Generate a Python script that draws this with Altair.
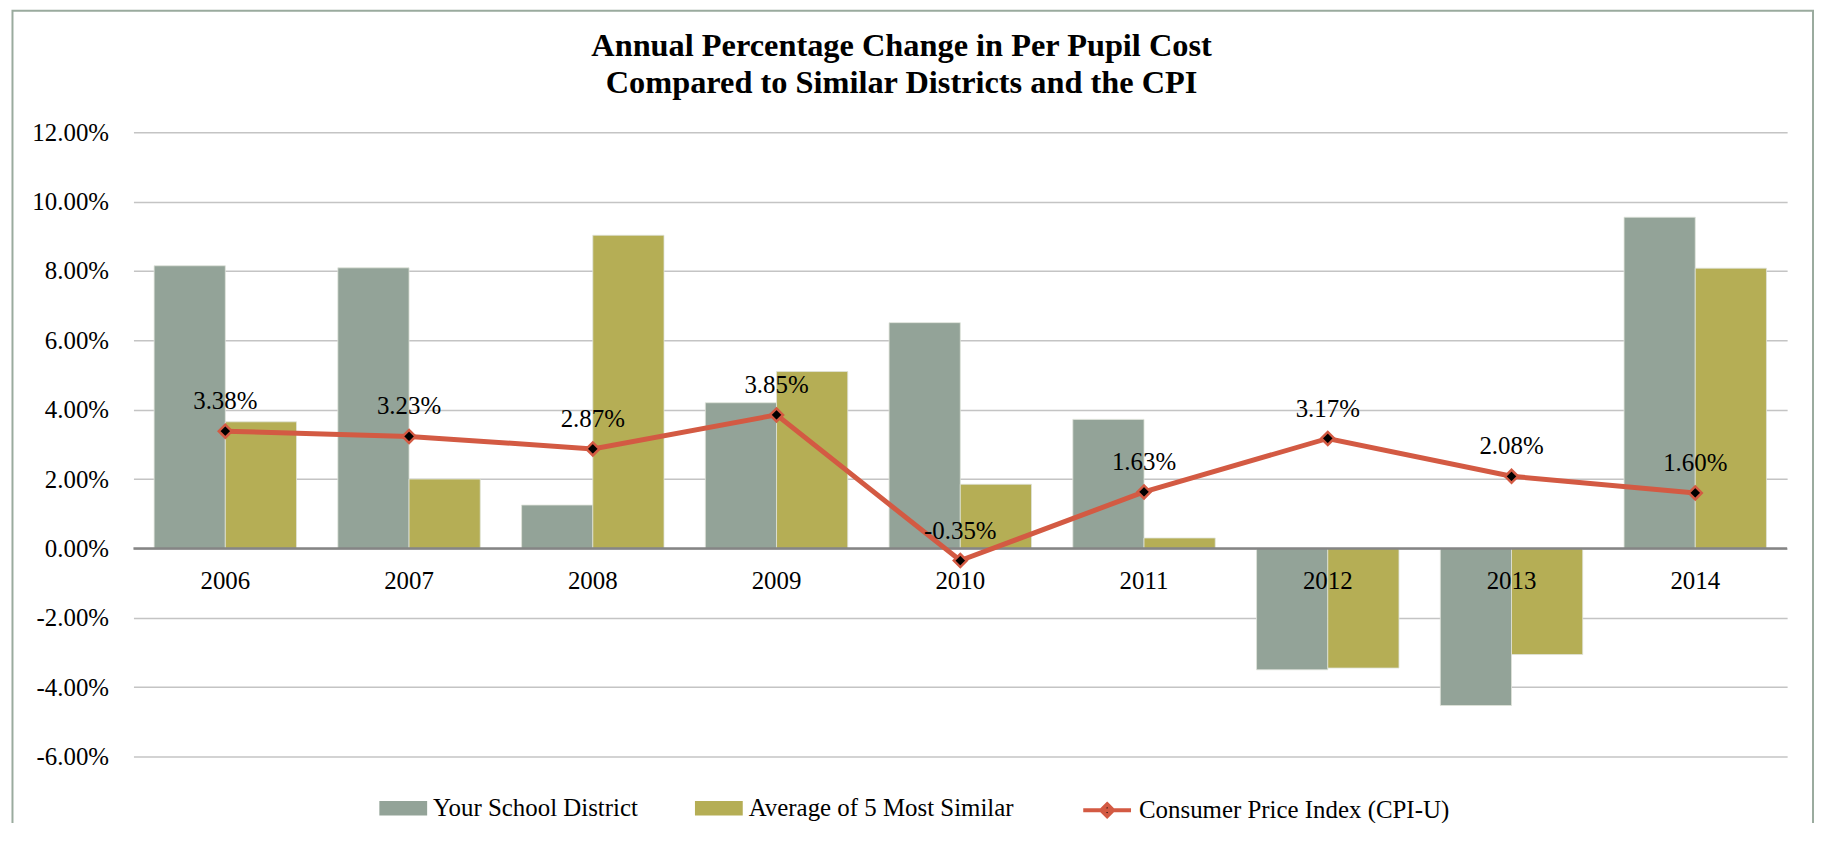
import altair as alt
import pandas as pd

years = ["2006", "2007", "2008", "2009", "2010", "2011", "2012", "2013", "2014"]
district = [8.15, 8.09, 1.25, 4.20, 6.51, 3.72, -3.50, -4.53, 9.55]
similar = [3.65, 2.00, 9.03, 5.10, 1.85, 0.30, -3.45, -3.06, 8.08]
cpi = [3.38, 3.23, 2.87, 3.85, -0.35, 1.63, 3.17, 2.08, 1.60]

S1 = "Your School District"
S2 = "Average of 5 Most Similar"
S3 = "Consumer Price Index (CPI-U)"
bar_colors = ["#93a398", "#b5ae55"]
CPI_RED = "#d35a43"
y_ticks = [-6, -4, -2, 0, 2, 4, 6, 8, 10, 12]

FONT = "Liberation Serif"
W, H = 1661, 627

bars_df = pd.DataFrame(
    {"year": years * 2,
     "series": [S1] * len(years) + [S2] * len(years),
     "value": district + similar}
)
cpi_df = pd.DataFrame({"year": years, "value": cpi, "series": [S3] * len(years),
                       "label": [f"{v:.2f}%" for v in cpi]})

x_scale = alt.Scale(domain=years, paddingInner=0.225, paddingOuter=0.1125)
y_scale = alt.Scale(domain=[-6, 12], nice=False, zero=False)

bar_legend = alt.Legend(
    title=None, orient="none", direction="horizontal",
    legendX=247, legendY=655, padding=0,
    symbolType="M-1,-0.3H1V0.3H-1Z", symbolSize=2304, symbolStrokeWidth=0,
    symbolOpacity=1,
    labelFont=FONT, labelFontSize=25, labelColor="black",
    labelOffset=6, columnPadding=57, labelLimit=0,
)
cpi_legend = alt.Legend(
    title=None, orient="none", direction="horizontal",
    legendX=952, legendY=655, padding=0,
    symbolType="M-1,0H1M0,-0.25L0.25,0L0,0.25L-0.25,0Z", symbolSize=2304,
    symbolStrokeColor=CPI_RED, symbolStrokeWidth=4, symbolOpacity=1,
    symbolFillColor="black",
    labelFont=FONT, labelFontSize=25, labelColor="black",
    labelOffset=6, labelLimit=0,
)

bars = alt.Chart(bars_df).mark_bar(stroke="#dfe3da", strokeWidth=0.8).encode(
    x=alt.X("year:N", scale=x_scale, sort=years,
            axis=alt.Axis(title=None, domain=False, ticks=False, tickSize=0,
                          labelAngle=0, offset=-209, labelPadding=20,
                          labelFont=FONT, labelFontSize=25, labelColor="black",
                          grid=False, zindex=1)),
    xOffset=alt.XOffset("series:N", scale=alt.Scale(domain=[S1, S2], paddingInner=0, paddingOuter=0)),
    y=alt.Y("value:Q", scale=y_scale,
            axis=alt.Axis(title=None, values=y_ticks, domain=False, ticks=False,
                          tickSize=0, labelPadding=25, labelFont=FONT,
                          labelFontSize=25, labelColor="black",
                          labelExpr="(datum.value < 0 ? '-' : '') + format(abs(datum.value), '.2f') + '%'",
                          grid=True, gridColor="#c4c4c4", gridWidth=1.5)),
    color=alt.Color("series:N", scale=alt.Scale(domain=[S1, S2], range=bar_colors),
                    legend=bar_legend),
)

zero = alt.Chart(pd.DataFrame({"z": [0]})).mark_rule(color="#858585", strokeWidth=2.5).encode(
    y=alt.Y("z:Q", scale=y_scale)
)

line = alt.Chart(cpi_df).mark_line(color=CPI_RED, strokeWidth=5).encode(
    x=alt.X("year:N", scale=x_scale, sort=years),
    y=alt.Y("value:Q", scale=y_scale),
)

points = alt.Chart(cpi_df).mark_point(
    shape="diamond", filled=True, stroke=CPI_RED,
    strokeWidth=2.5, size=170, opacity=1
).encode(
    x=alt.X("year:N", scale=x_scale, sort=years),
    y=alt.Y("value:Q", scale=y_scale),
    fill=alt.Fill("series:N", scale=alt.Scale(domain=[S3], range=["black"]),
                  legend=cpi_legend),
)

labels = alt.Chart(cpi_df).mark_text(
    dy=-30, font=FONT, fontSize=25, color="black"
).encode(
    x=alt.X("year:N", scale=x_scale, sort=years),
    y=alt.Y("value:Q", scale=y_scale),
    text="label:N",
)

border = alt.Chart(pd.DataFrame({"b": [0]})).mark_rect(
    fill="transparent", stroke="#9aab9e", strokeWidth=2
).encode(
    x=alt.value(-121.5), x2=alt.value(1687),
    y=alt.value(-122), y2=alt.value(760),
)

chart = alt.layer(bars, zero, line, points, labels, border).resolve_scale(
    color="independent", fill="independent"
).properties(
    width=W, height=H,
    background="white",
    autosize=alt.AutoSizeParams(type="none"),
    padding={"left": 126, "top": 123, "right": 29, "bottom": 65},
    title=alt.TitleParams(
        text=["Annual Percentage Change in Per Pupil Cost",
              "Compared to Similar Districts and the CPI"],
        font=FONT, fontSize=32.5, fontWeight="bold", color="black",
        anchor="middle", dx=-59, offset=-90, lineHeight=37,
    ),
).configure_view(stroke=None)

chart.save("out.html", embed_options={"renderer": "svg", "actions": False})
